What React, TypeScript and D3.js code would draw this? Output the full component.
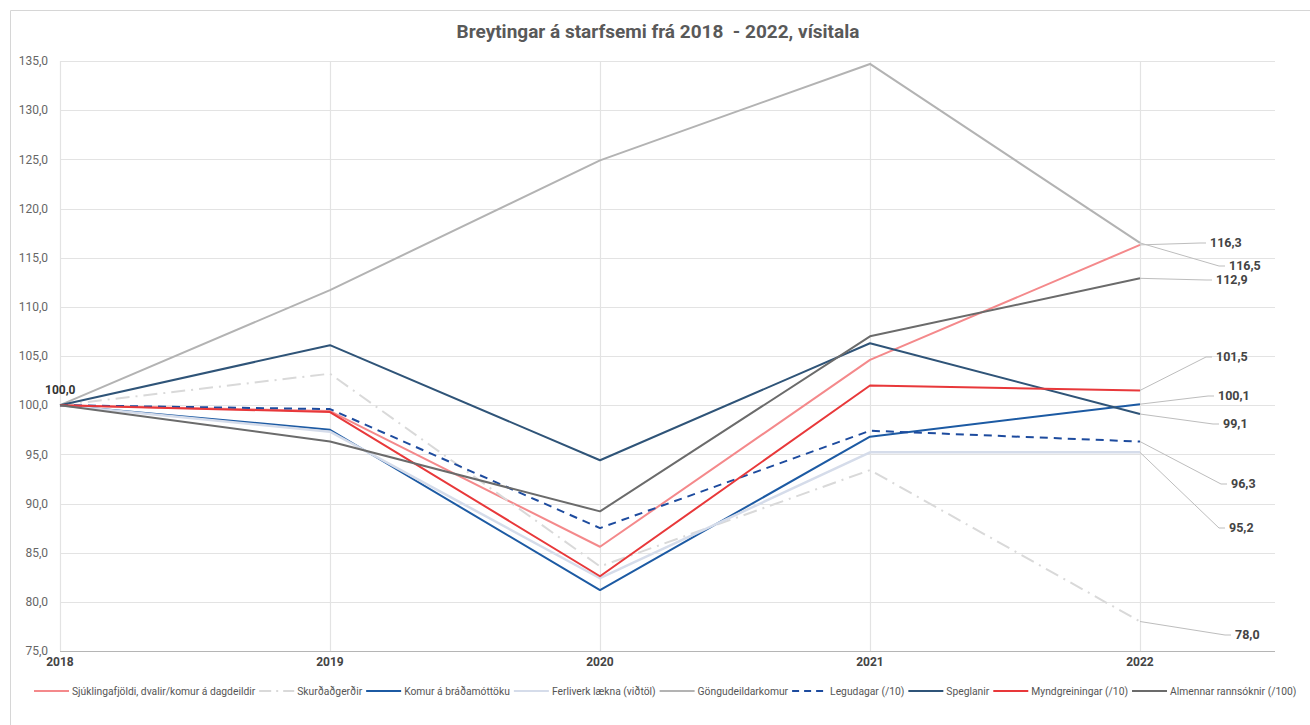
import { useEffect, useRef } from "react";
import * as d3 from "d3";

// data
const years = [2018, 2019, 2020, 2021, 2022];
const yTicks = [75, 80, 85, 90, 95, 100, 105, 110, 115, 120, 125, 130, 135];

const seriesNames = [
  "Sjúklingafjöldi, dvalir/komur á dagdeildir",
  "Skurðaðgerðir",
  "Komur á bráðamóttöku",
  "Ferliverk lækna (viðtöl)",
  "Göngudeildarkomur",
  "Legudagar (/10)",
  "Speglanir",
  "Myndgreiningar (/10)",
  "Almennar rannsóknir (/100)",
];

const sjuklingar = [100, 99.4, 85.6, 104.6, 116.3];
const skurdadgerdir = [100, 103.2, 83.6, 93.4, 78.0];
const komur = [100, 97.5, 81.2, 96.8, 100.1];
const ferliverk = [100, 97.3, 82.4, 95.2, 95.2];
const gongudeild = [100, 111.7, 124.9, 134.7, 116.5];
const legudagar = [100, 99.6, 87.5, 97.4, 96.3];
const speglanir = [100, 106.1, 94.4, 106.3, 99.1];
const myndgreiningar = [100, 99.3, 82.6, 102.0, 101.5];
const almennar = [100, 96.3, 89.2, 107.0, 112.9];

const seriesValues = [
  sjuklingar,
  skurdadgerdir,
  komur,
  ferliverk,
  gongudeild,
  legudagar,
  speglanir,
  myndgreiningar,
  almennar,
];

// styling
const colors = ["#f4898b", "#d9d9d9", "#1c5aa3", "#d5dcea", "#b3b3b3", "#1d4b9e", "#2f5478", "#e8383a", "#6b6b6b"];
const dashes = [null, "14 6 2 6", null, null, null, "8 6", null, null, null];
const widths = [2, 2, 2, 2.5, 2, 2, 2, 2, 2];

// where the end labels sit (px), in series order
const endLabelPos = [
  { x: 1210, y: 243 }, // 116,3
  { x: 1235, y: 635 }, // 78,0
  { x: 1218, y: 396 }, // 100,1
  { x: 1229, y: 528 }, // 95,2
  { x: 1229, y: 266 }, // 116,5
  { x: 1231, y: 484 }, // 96,3
  { x: 1223, y: 424 }, // 99,1
  { x: 1216, y: 357 }, // 101,5
  { x: 1216, y: 280 }, // 112,9
];

const W = 1310;
const H = 725;
const FONT = "Roboto, 'Noto Sans', sans-serif";
const fmt = (v: number) => v.toFixed(1).replace(".", ",");

const App = () => {
  const svgRef = useRef<SVGSVGElement | null>(null);

  useEffect(() => {
    const svg = d3.select(svgRef.current);
    svg.selectAll("*").remove();

    const x = d3.scaleLinear().domain([2018, 2022.5]).range([60, 1275]);
    const y = d3.scaleLinear().domain([75, 135]).range([651, 61]);

    svg.append("rect").attr("width", W).attr("height", H).attr("fill", "#fff");
    // chart frame
    svg
      .append("path")
      .attr("d", `M10.5,${H} V10.5 H${W}`)
      .attr("fill", "none")
      .attr("stroke", "#d6d6d6");

    svg
      .append("text")
      .attr("x", 658)
      .attr("y", 38)
      .attr("text-anchor", "middle")
      .attr("font-family", FONT)
      .attr("font-weight", "bold")
      .attr("font-size", 19)
      .attr("fill", "#595959")
      .style("white-space", "pre")
      .text("Breytingar á starfsemi frá 2018  - 2022, vísitala");

    // grid
    const grid = svg.append("g");
    grid
      .selectAll("line.h")
      .data(yTicks)
      .enter()
      .append("line")
      .attr("x1", 60)
      .attr("x2", 1275)
      .attr("y1", (d) => Math.round(y(d)) + 0.5)
      .attr("y2", (d) => Math.round(y(d)) + 0.5)
      .attr("stroke", (d) => (d === 75 ? "#b5b5b5" : "#e3e3e3"))
      .attr("stroke-width", 1.2);
    grid
      .selectAll("line.v")
      .data(years)
      .enter()
      .append("line")
      .attr("x1", (d) => Math.round(x(d)) + 0.5)
      .attr("x2", (d) => Math.round(x(d)) + 0.5)
      .attr("y1", 61)
      .attr("y2", 651)
      .attr("stroke", "#e3e3e3")
      .attr("stroke-width", 1.2);

    // y tick labels
    svg
      .append("g")
      .selectAll("text")
      .data(yTicks)
      .enter()
      .append("text")
      .attr("x", 48)
      .attr("y", (d) => y(d))
      .attr("dy", "0.35em")
      .attr("text-anchor", "end")
      .attr("font-family", FONT)
      .attr("font-size", 12)
      .attr("fill", "#666")
      .text((d) => fmt(d));

    // x tick labels
    svg
      .append("g")
      .selectAll("text")
      .data(years)
      .enter()
      .append("text")
      .attr("x", (d) => x(d))
      .attr("y", 666)
      .attr("text-anchor", "middle")
      .attr("font-family", FONT)
      .attr("font-weight", "bold")
      .attr("font-size", 12)
      .attr("fill", "#444")
      .text((d) => d);

    // lines
    const line = d3
      .line<number>()
      .x((_, i) => x(years[i]))
      .y((d) => y(d));

    svg
      .append("g")
      .selectAll("path")
      .data(seriesValues)
      .enter()
      .append("path")
      .attr("d", (d) => line(d))
      .attr("fill", "none")
      .attr("stroke", (_, i) => colors[i])
      .attr("stroke-width", (_, i) => widths[i])
      .attr("stroke-dasharray", (_, i) => dashes[i])
      .attr("stroke-linejoin", "round");

    // start label
    svg
      .append("text")
      .attr("x", 45)
      .attr("y", 394)
      .attr("font-family", FONT)
      .attr("font-weight", "bold")
      .attr("font-size", 12)
      .attr("fill", "#333")
      .text(fmt(sjuklingar[0]));

    // end labels with leader lines
    const last = years.length - 1;
    const ends = svg.append("g");
    seriesValues.forEach((vals, i) => {
      const px = x(years[last]);
      const py = y(vals[last]);
      const p = endLabelPos[i];
      ends
        .append("polyline")
        .attr("points", `${px},${py} ${p.x - 10},${p.y} ${p.x - 4},${p.y}`)
        .attr("fill", "none")
        .attr("stroke", "#bdbdbd")
        .attr("stroke-width", 1);
      ends
        .append("text")
        .attr("x", p.x)
        .attr("y", p.y)
        .attr("dy", "0.35em")
        .attr("font-family", FONT)
        .attr("font-weight", "bold")
        .attr("font-size", 12.5)
        .attr("fill", "#444")
        .text(fmt(vals[last]));
    });

    // legend, flowing left to right
    const legend = svg.append("g");
    let lx = 34;
    const ly = 691;
    seriesNames.forEach((name, i) => {
      legend
        .append("line")
        .attr("x1", lx)
        .attr("x2", lx + 35)
        .attr("y1", ly)
        .attr("y2", ly)
        .attr("stroke", colors[i])
        .attr("stroke-width", 2)
        .attr("stroke-dasharray", i === 1 ? "12 5 2 5" : i === 5 ? "7 5" : null);
      const t = legend
        .append("text")
        .attr("x", lx + 38)
        .attr("y", ly)
        .attr("dy", "0.35em")
        .attr("font-family", FONT)
        .attr("font-size", 10.3)
        .attr("fill", "#555")
        .text(name);
      const w = (t.node() as SVGTextElement).getComputedTextLength();
      lx += 38 + w + 4;
    });
  }, []);

  return <svg ref={svgRef} width={W} height={H} style={{ display: "block", position: "absolute", left: 0, top: 0 }} />;
};

export default App;
